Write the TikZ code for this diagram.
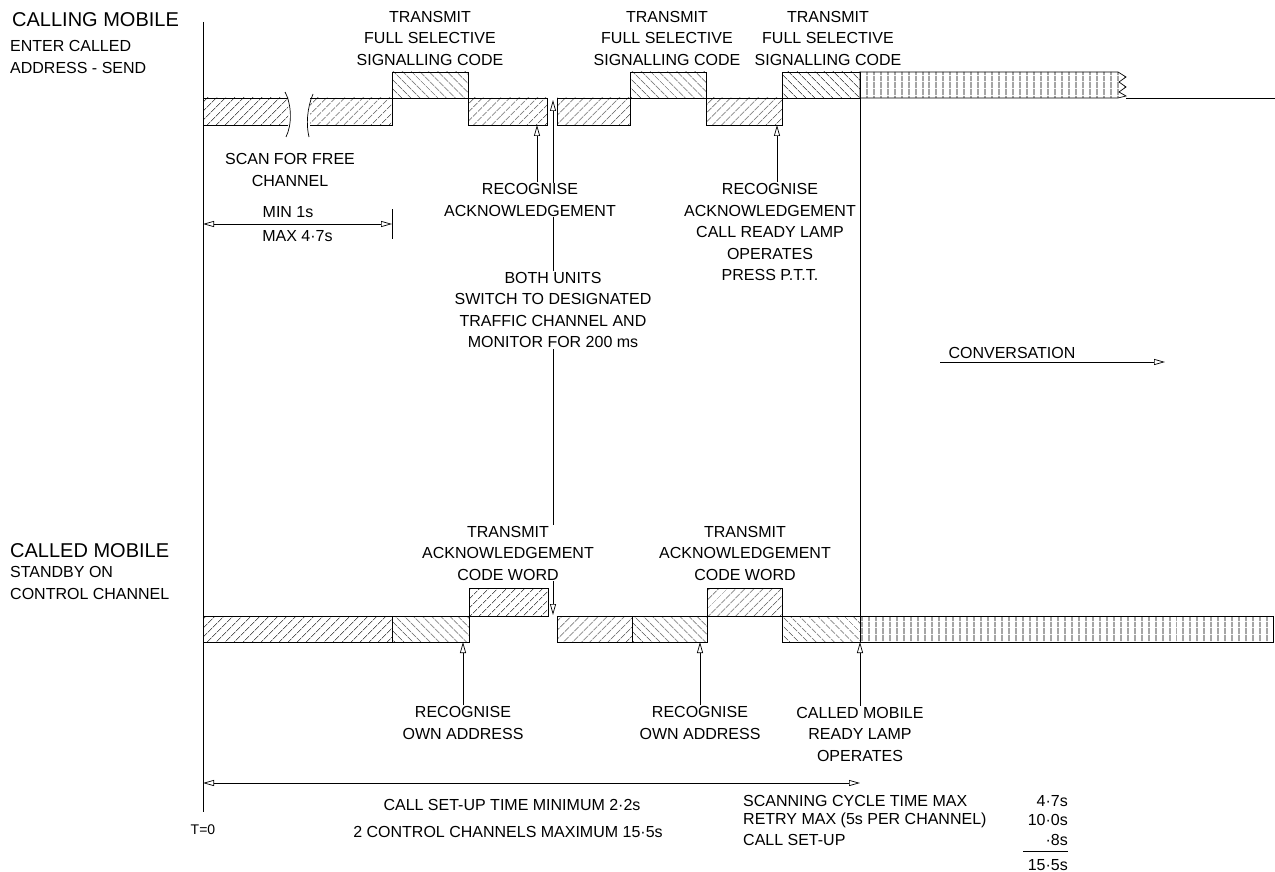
\documentclass[tikz,border=0pt]{standalone}
\usepackage{fontspec}
\setmainfont{Liberation Sans}
\usepackage{tikz}
\usetikzlibrary{arrows.meta, patterns.meta, positioning, calc}
\newcommand{\lblfont}{\fontsize{16}{21.5}\selectfont}
\newcommand{\headfont}{\fontsize{20}{24}\selectfont}
\tikzset{
  hatchA/.style={draw=black, line width=0.7pt,
    pattern={Lines[angle=45,distance=6.5pt,line width=0.6pt]}},
  hatchB/.style={draw=black, line width=0.7pt,
    pattern={Lines[angle=-45,distance=6.5pt,line width=0.6pt]}},
  hatchV/.style={draw=black, line width=0.7pt,
    pattern={Lines[angle=90,distance=6.5pt,line width=0.6pt]}},
  lbl/.style={align=center, font=\lblfont, fill=white, inner sep=1pt},
  lblleft/.style={align=left, font=\lblfont, inner sep=0pt, anchor=west},
  head/.style={font=\headfont, inner sep=0pt, anchor=west},
  thinline/.style={line width=0.7pt},
  arrow/.style={-{Triangle[open,length=11pt,width=6pt]}, line width=0.7pt},
  dblarrow/.style={{Triangle[open,length=11pt,width=6pt]}-{Triangle[open,length=11pt,width=6pt]}, line width=0.7pt}
}

\begin{document}
\begin{tikzpicture}[x=1pt, y=-1pt]
\useasboundingbox (0,0) rectangle (1275,872);

% time axis
\draw [thinline] (203,22) -- (203,812);

% calling mobile track
\draw [hatchA] (288,98) -- (203,98) -- (203,125) -- (288,125);
\draw [hatchA] (310,98) -- (392,98) -- (392,125) -- (310,125);
\draw [thinline] (285,92) .. controls (292,105) and (292,125) .. (286,137);
\draw [thinline] (313,94) .. controls (307,108) and (306,125) .. (309,137);
\draw [hatchB] (392,72) rectangle (468,98);
\draw [hatchA] (468,98) rectangle (547,125);
\draw [hatchA] (557,98) rectangle (630,125);
\draw [hatchB] (630,72) rectangle (706,98);
\draw [hatchA] (706,98) rectangle (782,125);
\draw [hatchB] (782,72) rectangle (860,98);
\draw [hatchV] (860,72) -- (1118,72) -- (1126,77) -- (1119,82) -- (1126,87)
              -- (1119,92) -- (1126,96) -- (1118,98) -- (860,98) -- cycle;
\draw [thinline] (1126,98) -- (1275,98);

% called mobile track
\draw [hatchA] (203,616) rectangle (392,642);
\draw [hatchB] (392,616) rectangle (469,642);
\draw [hatchA] (469,588) rectangle (548,616);
\draw [hatchA] (557,616) rectangle (632,642);
\draw [hatchB] (632,616) rectangle (707,642);
\draw [hatchA] (707,588) rectangle (782,616);
\draw [hatchB] (782,616) rectangle (860,642);
\draw [hatchV] (860,616) rectangle (1273,642);

% tips on the tracks
\coordinate (ackA)  at (537,125);
\coordinate (ackB)  at (777,125);
\coordinate (swTop) at (553,100);
\coordinate (swBot) at (553,615);
\coordinate (ownA)  at (463,642);
\coordinate (ownB)  at (700,642);
\coordinate (rdy)   at (860,642);
\coordinate (minL)  at (203,224);
\coordinate (minR)  at (392,224);
\coordinate (setL)  at (203,783);
\coordinate (setR)  at (860,783);
\coordinate (cvL)   at (940,362);
\coordinate (cvR)   at (1165,362);

\draw [dblarrow] (swTop) -- (swBot);

% labels
\node (callingT) [head]    at (12,20)   {CALLING MOBILE};
\node (enterT)   [lblleft] at (10,57)   {ENTER CALLED\\ADDRESS - SEND};
\node (calledT)  [head]    at (10,551)  {CALLED MOBILE};
\node (standbyT) [lblleft] at (10,583)  {STANDBY ON\\CONTROL CHANNEL};

\node (txA) [lbl] at (430,38) {TRANSMIT\\FULL SELECTIVE\\SIGNALLING CODE};
\node (txB) [lbl] at (667,38) {TRANSMIT\\FULL SELECTIVE\\SIGNALLING CODE};
\node (txC) [lbl] at (828,38) {TRANSMIT\\FULL SELECTIVE\\SIGNALLING CODE};

\node (scan)  [lbl] at (290,170) {SCAN FOR FREE\\CHANNEL};
\node (minT)  [lbl, fill=none, above=5pt of $(minL)!0.45!(minR)$] {MIN 1s};
\node (maxT)  [lbl, fill=none, below=5pt of $(minL)!0.5!(minR)$] {MAX 4·7s};

\node (rackA) [lbl] at (530,200) {RECOGNISE\\ACKNOWLEDGEMENT};
\node (rackB) [lbl, fill=none] at (770,232)
  {RECOGNISE\\ACKNOWLEDGEMENT\\CALL READY LAMP\\OPERATES\\PRESS P.T.T.};
\node (both)  [lbl] at (553,310)
  {BOTH UNITS\\SWITCH TO DESIGNATED\\TRAFFIC CHANNEL AND\\MONITOR FOR 200 ms};
\node (conv)  [lbl, above=2pt of $(cvL)!0.32!(cvR)$] {CONVERSATION};

\node (txAckA) [lbl] at (508,553) {TRANSMIT\\ACKNOWLEDGEMENT\\CODE WORD};
\node (txAckB) [lbl] at (745,553) {TRANSMIT\\ACKNOWLEDGEMENT\\CODE WORD};

\node (ownAT) [lbl] at (463,723) {RECOGNISE\\OWN ADDRESS};
\node (ownBT) [lbl] at (700,723) {RECOGNISE\\OWN ADDRESS};
\node (rdyT)  [lbl] at (860,734) {CALLED MOBILE\\READY LAMP\\OPERATES};

\node (setupT) [lbl] at (512,805) {CALL SET-UP TIME MINIMUM 2·2s};
\node (twoT)   [lbl] at (508,832) {2 CONTROL CHANNELS MAXIMUM 15·5s};
\node (tzero)  [lbl, font=\fontsize{14}{16}\selectfont] at (203,830) {T=0};

\node (scanR)  [lblleft] at (743,801) {SCANNING CYCLE TIME MAX};
\node (retryR) [lblleft] at (743,820) {RETRY MAX (5s PER CHANNEL)};
\node (callR)  [lblleft] at (743,840) {CALL SET-UP};
\node (scanV)  [lblleft, anchor=east] at (1068,801) {4·7s};
\node (retryV) [lblleft, anchor=east] at (1068,820) {10·0s};
\node (callV)  [lblleft, anchor=east] at (1068,840) {·8s};
\node (totV)   [lblleft, anchor=east] at (1068,865) {15·5s};
\draw [thinline] (1023,851) -- (1068,851);

% end of set-up
\draw [thinline] (860,72) -- (860,642);

% arrows
\draw [arrow] (rackA.north -| ackA) -- (ackA);
\draw [arrow] (rackB.north -| ackB) -- (ackB);
\draw [arrow] (ownAT.north -| ownA) -- (ownA);
\draw [arrow] (ownBT.north -| ownB) -- (ownB);
\draw [arrow] (rdyT.north) -- (rdy);
\draw [dblarrow] (minL) -- (minR);
\draw [thinline] (392,209) -- (392,239);
\draw [dblarrow] (setL) -- (setR);
\draw [arrow] (cvL) -- (cvR);
\end{tikzpicture}
\end{document}
